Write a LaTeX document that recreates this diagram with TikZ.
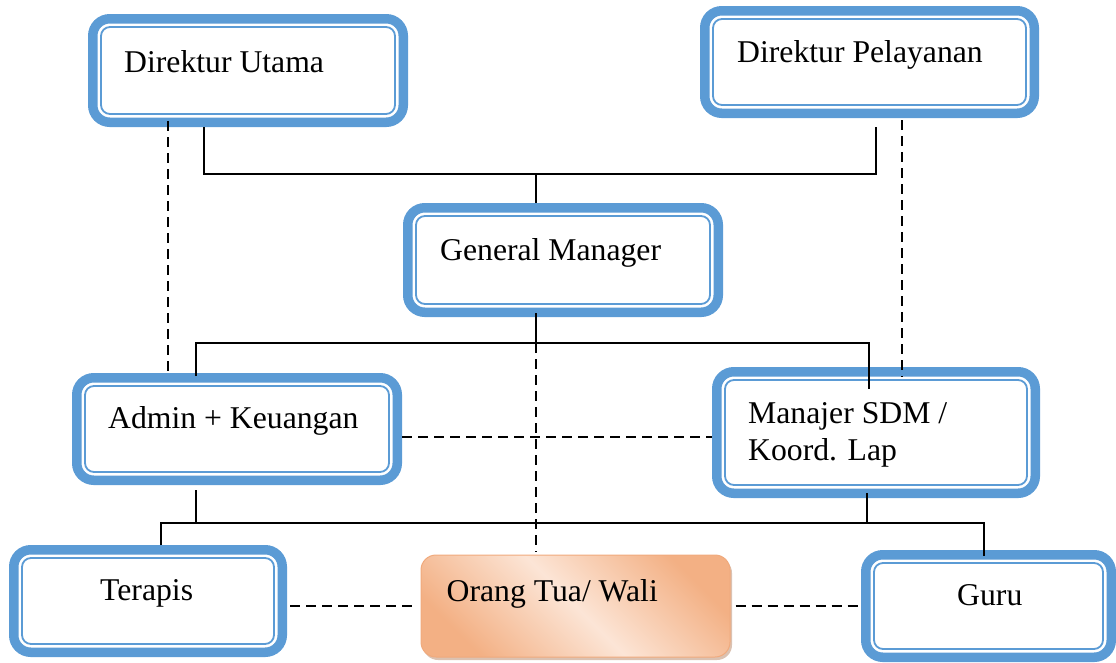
\documentclass[tikz,border=0pt]{standalone}
\usepackage{fontspec}
\setmainfont{Liberation Serif}
\usetikzlibrary{calc,shadows}
\definecolor{bblue}{RGB}{91,155,213}
\definecolor{peach}{RGB}{243,176,132}
\definecolor{peachlight}{RGB}{252,229,214}
\definecolor{peachedge}{RGB}{240,170,125}
\tikzset{
  bluebox/.style={rectangle, rounded corners=17pt, draw=bblue, line width=9.5pt, fill=white,
    outer sep=4.75pt, inner sep=0pt},
  innerline/.style={draw=bblue, line width=1.8pt, rounded corners=9pt},
  orangebox/.style={rectangle, rounded corners=15pt, draw=peachedge, line width=1pt,
    top color=peach, bottom color=peach, middle color=peachlight, shading angle=-45,
    drop shadow={shadow xshift=2pt, shadow yshift=-3pt, fill=peachedge!60!gray, opacity=.6},
    inner sep=0pt},
  txt/.style={anchor=base west, inner sep=0pt, font=\fontsize{31.7}{37}\selectfont, align=left},
  conn/.style={line width=1.8pt, black},
  dconn/.style={line width=1.8pt, black, dash pattern=on 10pt off 6pt},
}
\newcommand{\innerframe}[1]{\draw[innerline] ($(#1.north west)+(13,13)$) rectangle ($(#1.south east)+(-13,-13)$);}
\begin{document}
\begin{tikzpicture}[x=1pt,y=-1pt]
\useasboundingbox (0,0) rectangle (1116,662);
% boxes
\node[bluebox, minimum width=310.5pt, minimum height=103.5pt] (du) at (248,70.5) {};
\node[bluebox, minimum width=329.5pt, minimum height=102.5pt] (dp) at (869.5,62) {};
\node[bluebox, minimum width=310.5pt, minimum height=104.5pt] (gm) at (563,260) {};
\node[bluebox, minimum width=320.5pt, minimum height=102.5pt] (ak) at (237,429) {};
\node[bluebox, minimum width=318.5pt, minimum height=121.5pt] (ms) at (876,432.5) {};
\node[bluebox, minimum width=268.5pt, minimum height=102.5pt] (tr) at (148,601) {};
\node[bluebox, minimum width=245.5pt, minimum height=102.5pt] (gu) at (988.5,606) {};
\node[orangebox, minimum width=309pt, minimum height=102pt] (ot) at (575.5,606) {};
\innerframe{du}\innerframe{dp}\innerframe{gm}\innerframe{ak}
\innerframe{ms}\innerframe{tr}\innerframe{gu}
% texts
\node[txt] (tdu) at ($(du.north west)+(36,58)$) {Direktur Utama};
\node[txt] (tdp) at ($(dp.north west)+(37,56)$) {Direktur Pelayanan};
\node[txt] (tgm) at ($(gm.north west)+(37,57)$) {General Manager};
\node[txt] (tak) at ($(ak.north west)+(36,55)$) {Admin + Keuangan};
\node[txt] (tms) at ($(ms.north west)+(36,93)$) {Manajer SDM /\\Koord. Lap};
\node[txt] (ttr) at ($(tr.north west)+(91,55)$) {Terapis};
\node[txt] (tgu) at ($(gu.north west)+(96,55)$) {Guru};
\node[txt] (tot) at ($(ot.north west)+(26,47)$) {Orang Tua/ Wali};
% solid connectors
\coordinate (j1) at (536,174);
\coordinate (j2) at (536,343);
\coordinate (j3) at (196,523);
\draw[conn] ($(du.south west)+(116,0)$) |- (j1) -| ($(dp.south west)+(176,9)$);
\draw[conn] (j1) -- (gm.north -| j1);
\draw[conn] ($(gm.south -| j2)+(0,-4)$) -- (j2);
\draw[conn] ($(ak.north west)+(124,3)$) |- (j2) -| ($(ms.north west)+(157,22)$);
\draw[conn] ($(ak.south west)+(124,5)$) -- (j3);
\draw[conn] ($(tr.north west)+(152,0)$) |- (j3) -| ($(gu.north west)+(123,6)$);
\coordinate (mb) at ($(ms.south west)+(155,-5)$);
\draw[conn] (mb) -- (mb |- j3);
% dashed connectors
\coordinate (d1) at ($(du.south west)+(80,-6)$);
\draw[dconn] (d1) -- (ak.north -| d1);
\coordinate (d2) at ($(dp.south west)+(202,2)$);
\draw[dconn] (d2) -- ($(ms.north -| d2)+(0,10)$);
\draw[dconn] (j2) -- ($(ot.north -| j2)+(0,-3)$);
\coordinate (h1) at ($(ak.east)+(0,8)$);
\draw[dconn] (h1) -- (h1 -| ms.west);
\coordinate (h2) at ($(tr.east)+(3,5)$);
\draw[dconn] (h2) -- ($(h2 -| ot.west)+(-6,0)$);
\draw[dconn] ($(ot.east)+(5,0)$) -- ($(ot.east -| gu.west)+(-3,0)$);
\end{tikzpicture}
\end{document}
